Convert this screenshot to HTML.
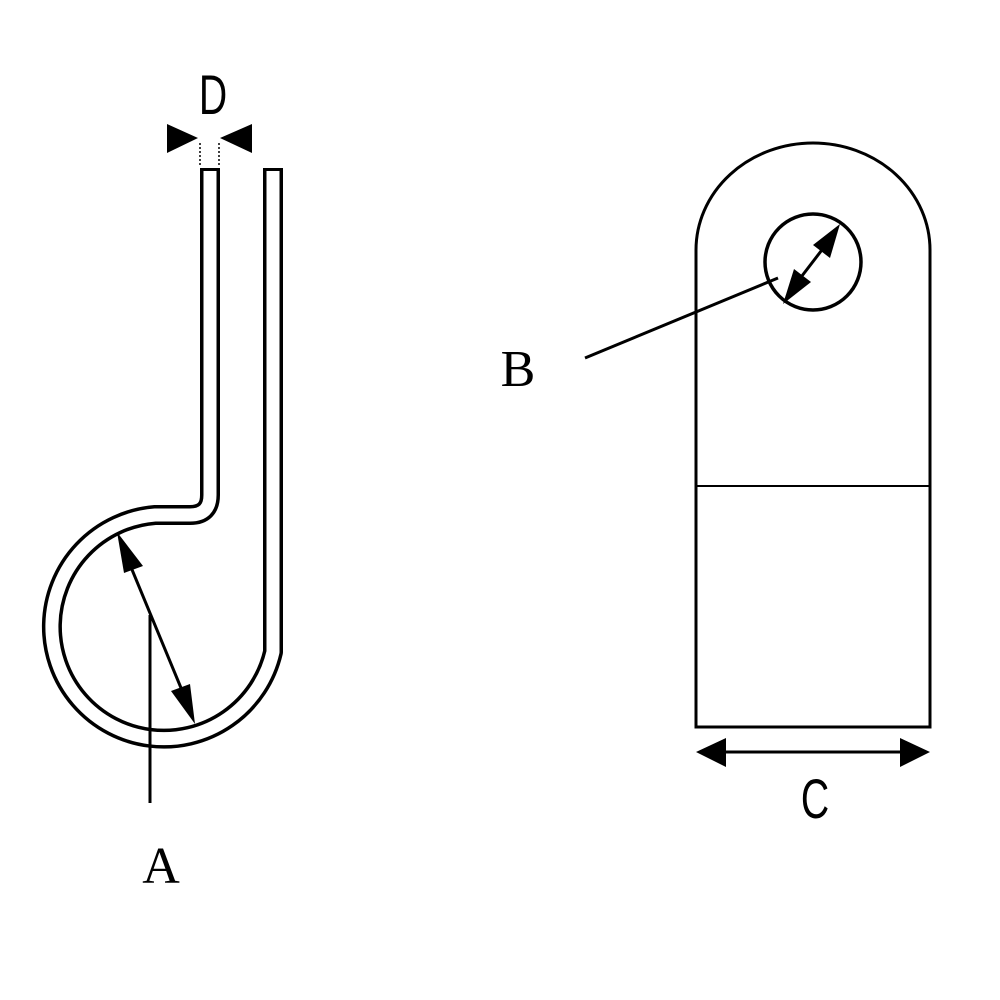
<!DOCTYPE html>
<html><head><style>body{margin:0;background:#fff}svg{display:block}</style></head><body>
<svg width="1000" height="1000" viewBox="0 0 1000 1000" xmlns="http://www.w3.org/2000/svg">
<rect width="1000" height="1000" fill="#fff"/>
<!-- clip -->
<path d="M210,168 L210,495 Q210,515 190,515 L155,515 A112,112 0 1 0 273,652 L273,168" fill="none" stroke="#000" stroke-width="20" stroke-linejoin="round"/>
<path d="M210,171 L210,495 Q210,515 190,515 L155,515 A112,112 0 1 0 273,652 L273,171" fill="none" stroke="#fff" stroke-width="13" stroke-linejoin="round"/>
<!-- D -->
<polygon points="167,124 198,138 167,153" fill="#000"/>
<polygon points="252,124 220,138 252,153" fill="#000"/>
<line x1="200" y1="143" x2="200" y2="166" stroke="#000" stroke-width="1.5" stroke-dasharray="2,2"/>
<line x1="219" y1="143" x2="219" y2="166" stroke="#000" stroke-width="1.5" stroke-dasharray="2,2"/>
<text x="213" y="114" font-family="Liberation Sans Narrow, Liberation Sans, sans-serif" font-size="56" text-anchor="middle" transform="translate(213,0) scale(0.7,1) translate(-213,0)">D</text>
<!-- A -->
<line x1="128" y1="560" x2="186" y2="700" stroke="#000" stroke-width="3"/>
<polygon points="117,532 143,566 124,573" fill="#000"/>
<polygon points="195,724 171,691 190,684" fill="#000"/>
<line x1="150" y1="615" x2="150" y2="803" stroke="#000" stroke-width="3"/>
<text x="161" y="883" font-family="Liberation Serif, serif" font-size="52" text-anchor="middle">A</text>
<!-- plate -->
<path d="M696,727 L696,250 A117,107 0 0 1 930,250 L930,727 Z" fill="none" stroke="#000" stroke-width="3"/>
<line x1="696" y1="486" x2="930" y2="486" stroke="#000" stroke-width="2"/>
<circle cx="813" cy="262" r="48" fill="none" stroke="#000" stroke-width="3.5"/>
<line x1="795" y1="285" x2="828" y2="242" stroke="#000" stroke-width="3"/>
<polygon points="840,224 830,258 813,245" fill="#000"/>
<polygon points="783,304 794,269 811,282" fill="#000"/>
<line x1="585" y1="358" x2="778" y2="278" stroke="#000" stroke-width="3"/>
<text x="518" y="386" font-family="Liberation Serif, serif" font-size="52" text-anchor="middle">B</text>
<!-- C -->
<line x1="720" y1="752" x2="906" y2="752" stroke="#000" stroke-width="3"/>
<polygon points="696,752 726,738 726,767" fill="#000"/>
<polygon points="930,752 900,738 900,767" fill="#000"/>
<text x="815" y="818" font-family="Liberation Sans Narrow, Liberation Sans, sans-serif" font-size="56" text-anchor="middle" transform="translate(815,0) scale(0.7,1) translate(-815,0)">C</text>
</svg>
</body></html>
